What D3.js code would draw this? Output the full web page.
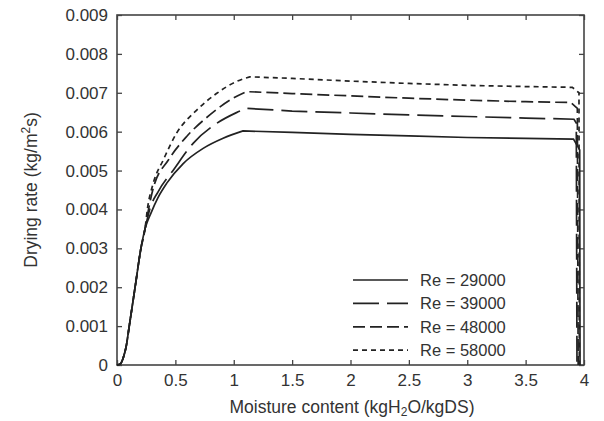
<!DOCTYPE html>
<html>
<head>
<meta charset="utf-8">
<script src="https://cdn.jsdelivr.net/npm/d3@7"></script>
<style>
  body { margin: 0; background: #fff; }
  svg text { font-family: "Liberation Sans", Arial, sans-serif; fill: #333; }
</style>
</head>
<body>
<svg id="chart"></svg>
<script>
const width = 604;
const height = 421;
const margin = { top: 15, right: 20, bottom: 56, left: 117 };

// x = moisture content, y = drying rate
const re29000 = [[0,0],[0.03,0.00003],[0.055,0.0002],[0.08,0.0005],[0.105,0.001],[0.13,0.0015],[0.155,0.002],[0.205,0.003],[0.24,0.0035],
  [0.29,0.0039],[0.35,0.0043],[0.425,0.00467],[0.567,0.00518],[0.738,0.00557],[0.909,0.00583],[1.08,0.00602],
  [1.5,0.00598],[2,0.00593],[2.5,0.00589],[3,0.00585],[3.5,0.00583],[3.91,0.00581],[3.963,0.00553],[3.966,0]];
const re39000 = [[0,0],[0.03,0.00003],[0.055,0.0002],[0.08,0.0005],[0.105,0.001],[0.13,0.0015],[0.155,0.002],[0.205,0.003],[0.24,0.0035],
  [0.28,0.004],[0.353,0.00446],[0.482,0.00501],[0.652,0.0057],[0.852,0.00621],[1.023,0.00649],[1.108,0.0066],
  [1.5,0.00653],[2,0.00648],[2.5,0.00643],[3,0.00639],[3.5,0.00635],[3.914,0.00632],[3.934,0.00622],[3.94,0]];
const re48000 = [[0,0],[0.03,0.00003],[0.055,0.0002],[0.08,0.0005],[0.105,0.001],[0.13,0.0015],[0.155,0.002],[0.205,0.003],[0.24,0.0035],
  [0.27,0.004],[0.31,0.00454],[0.44,0.00527],[0.595,0.00587],[0.795,0.00643],[0.994,0.00686],[1.108,0.00703],
  [1.5,0.00698],[2,0.00692],[2.5,0.00686],[3,0.00681],[3.5,0.00677],[3.886,0.00675],[3.943,0.0066],[3.95,0]];
const re58000 = [[0,0],[0.03,0.00003],[0.055,0.0002],[0.08,0.0005],[0.105,0.001],[0.13,0.0015],[0.155,0.002],[0.205,0.003],[0.24,0.0035],
  [0.26,0.004],[0.31,0.00467],[0.396,0.00527],[0.51,0.00596],[0.681,0.00655],[0.852,0.00698],[1.023,0.00729],[1.137,0.00741],
  [1.5,0.00737],[2,0.0073],[2.5,0.00724],[3,0.00719],[3.5,0.00716],[3.9,0.00714],[3.957,0.007],[3.96,0]];

const seriesNames = ["Re = 29000", "Re = 39000", "Re = 48000", "Re = 58000"];
const seriesData = [re29000, re39000, re48000, re58000];
const dashes = ["none", "26,8", "12,5", "5,4"];

const xTicks = [0, 0.5, 1, 1.5, 2, 2.5, 3, 3.5, 4];
const yTicks = [0, 0.001, 0.002, 0.003, 0.004, 0.005, 0.006, 0.007, 0.008, 0.009];

const svg = d3.select("#chart")
    .attr("width", width)
    .attr("height", height);

const x = d3.scaleLinear().domain([0, 4]).range([margin.left, width - margin.right]);
const y = d3.scaleLinear().domain([0, 0.009]).range([height - margin.bottom, margin.top]);

const axisColor = "#444";
const fmtX = d => String(d);
const fmtY = d => d === 0 ? "0" : d3.format(".3f")(d);

function styleAxis(g, showText) {
    g.select(".domain").remove();
    g.selectAll(".tick line").attr("stroke", axisColor).attr("stroke-width", 1.3);
    g.selectAll(".tick text").style("font-size", "17px").attr("fill", "#333");
    if (!showText) g.selectAll(".tick text").remove();
}

// axes (ticks point inward)
svg.append("g")
    .attr("transform", `translate(0, ${y(0)})`)
    .call(d3.axisBottom(x).tickValues(xTicks).tickFormat(fmtX).tickSizeInner(-5).tickSizeOuter(0).tickPadding(9))
    .call(g => styleAxis(g, true));

svg.append("g")
    .attr("transform", `translate(0, ${y(0.009)})`)
    .call(d3.axisTop(x).tickValues(xTicks).tickSizeInner(-5).tickSizeOuter(0))
    .call(g => styleAxis(g, false));

svg.append("g")
    .attr("transform", `translate(${x(0)}, 0)`)
    .call(d3.axisLeft(y).tickValues(yTicks).tickFormat(fmtY).tickSizeInner(-5).tickSizeOuter(0).tickPadding(9))
    .call(g => styleAxis(g, true));

svg.append("g")
    .attr("transform", `translate(${x(4)}, 0)`)
    .call(d3.axisRight(y).tickValues(yTicks).tickSizeInner(-5).tickSizeOuter(0))
    .call(g => styleAxis(g, false));

// frame
svg.append("rect")
    .attr("x", x(0)).attr("y", y(0.009))
    .attr("width", x(4) - x(0)).attr("height", y(0) - y(0.009))
    .attr("fill", "none")
    .attr("stroke", axisColor)
    .attr("stroke-width", 1.6);

// curves: smooth rising part, straight plateau and drop
const smooth = d3.line().x(d => x(d[0])).y(d => y(d[1])).curve(d3.curveMonotoneX);

seriesData.forEach((data, i) => {
    const peak = d3.maxIndex(data, d => d[1]);
    let path = smooth(data.slice(0, peak + 1));
    data.slice(peak + 1).forEach(d => { path += `L${x(d[0])},${y(d[1])}`; });
    svg.append("path")
        .attr("d", path)
        .attr("fill", "none")
        .attr("stroke", "#222")
        .attr("stroke-width", 1.7)
        .attr("stroke-dasharray", dashes[i]);
});

// legend
const legend = svg.append("g").attr("transform", "translate(353, 280)");
seriesNames.forEach((name, i) => {
    legend.append("line")
        .attr("x1", 0).attr("x2", 55)
        .attr("y1", i * 23.4).attr("y2", i * 23.4)
        .attr("stroke", "#222")
        .attr("stroke-width", 1.7)
        .attr("stroke-dasharray", dashes[i]);
    legend.append("text")
        .attr("x", 67)
        .attr("y", i * 23.4 + 6)
        .style("font-size", "16.5px")
        .text(name);
});

// axis titles
const xt = svg.append("text")
    .attr("x", 352)
    .attr("y", 413)
    .attr("text-anchor", "middle")
    .style("font-size", "17.5px");
xt.append("tspan").text("Moisture content (kgH");
xt.append("tspan").attr("baseline-shift", "-25%").style("font-size", "12px").text("2");
xt.append("tspan").text("O/kgDS)");

const yt = svg.append("text")
    .attr("transform", "rotate(-90)")
    .attr("x", -190)
    .attr("y", 37)
    .attr("text-anchor", "middle")
    .style("font-size", "17.5px");
yt.append("tspan").text("Drying rate (kg/m");
yt.append("tspan").attr("baseline-shift", "super").style("font-size", "12px").text("2");
yt.append("tspan").text("s)");
</script>
</body>
</html>
